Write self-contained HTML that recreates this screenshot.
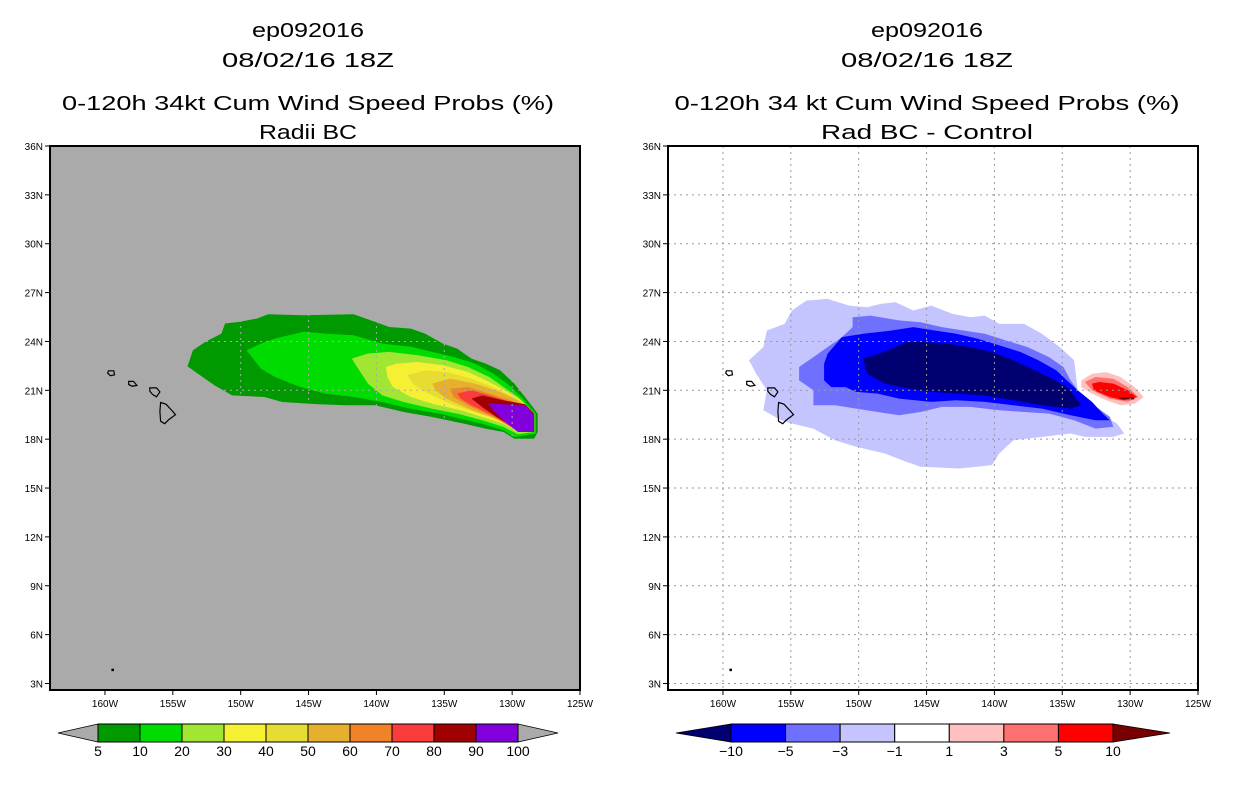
<!DOCTYPE html>
<html><head><meta charset="utf-8"><style>
html,body{margin:0;padding:0;background:#fff;}
svg{display:block;font-family:"Liberation Sans",sans-serif;}
</style></head><body>
<svg id="svg" width="1236" height="800" viewBox="0 0 1236 800">
<g id="titles" fill="#000" font-size="20" text-anchor="middle">
<text x="308" y="37" textLength="112" lengthAdjust="spacingAndGlyphs">ep092016</text>
<text x="308" y="67" textLength="172" lengthAdjust="spacingAndGlyphs">08/02/16 18Z</text>
<text x="308" y="110" textLength="492" lengthAdjust="spacingAndGlyphs">0-120h 34kt Cum Wind Speed Probs (%)</text>
<text x="308" y="139" textLength="98" lengthAdjust="spacingAndGlyphs">Radii BC</text>
<text x="927" y="37" textLength="112" lengthAdjust="spacingAndGlyphs">ep092016</text>
<text x="927" y="67" textLength="172" lengthAdjust="spacingAndGlyphs">08/02/16 18Z</text>
<text x="927" y="110" textLength="505" lengthAdjust="spacingAndGlyphs">0-120h 34 kt Cum Wind Speed Probs (%)</text>
<text x="927" y="139" textLength="212" lengthAdjust="spacingAndGlyphs">Rad BC - Control</text>
</g>
</svg>
<script>
// ---- data (lon in degrees east, negative = W) ----
const lonTicks=[-160,-155,-150,-145,-140,-135,-130,-125];
const latTicks=[3,6,9,12,15,18,21,24,27,30,33,36];
const leftLevels=[5,10,20,30,40,50,60,70,80,90,100];
const leftColors=["#009900","#00dc00","#a0e632","#f5f032","#e6dc32","#e6af2d","#f08228","#fa3c3c","#a00000","#8200dc"];
const rightLevels=[-10,-5,-3,-1,1,3,5,10];
const rightColors=["#000070","#0000ff","#7070ff","#c4c4ff","#ffffff","#ffc0c0","#ff7070","#ff0000","#780000"];
const prob5=[[-153.92,22.47],[-153.52,23.46],[-152.6,23.97],[-151.42,24.48],[-151.15,25.1],[-150.1,25.2],[-148.78,25.41],[-147.99,25.67],[-145.36,25.61],[-141.68,25.67],[-140.1,25.2],[-139.05,24.89],[-137.47,24.79],[-136.41,24.48],[-135.1,23.87],[-134.05,23.56],[-133.0,22.95],[-131.94,22.64],[-130.89,22.23],[-129.83,21.41],[-129.05,20.59],[-128.12,19.57],[-128.12,18.44],[-128.38,18.03],[-129.83,18.03],[-130.62,18.44],[-131.94,18.64],[-133.52,18.95],[-135.89,19.36],[-137.99,19.67],[-140.1,20.08],[-142.2,20.08],[-144.31,20.14],[-146.94,20.28],[-148.26,20.59],[-150.63,20.69],[-151.29,21.0],[-151.94,21.31],[-152.47,21.62]];
const prob10=[[-149.57,23.46],[-148.52,23.87],[-147.47,24.18],[-145.36,24.59],[-143.78,24.48],[-141.68,24.38],[-139.57,23.87],[-137.47,23.67],[-135.89,23.36],[-134.31,23.05],[-132.73,22.64],[-131.41,22.03],[-130.36,21.41],[-129.31,20.59],[-128.25,19.57],[-128.25,18.34],[-129.83,18.13],[-130.62,18.54],[-132.2,18.95],[-133.78,19.26],[-135.36,19.57],[-137.47,19.87],[-139.57,20.28],[-141.68,20.59],[-143.78,20.8],[-145.63,21.21],[-147.47,21.82],[-148.52,22.33]];
const prob20=[[-141.81,22.95],[-140.63,23.26],[-139.05,23.36],[-136.94,23.15],[-134.84,22.84],[-133.26,22.43],[-131.68,21.82],[-130.62,21.2],[-129.57,20.59],[-128.38,19.57],[-128.38,18.44],[-129.57,18.3],[-130.62,18.75],[-132.2,19.16],[-134.05,19.57],[-135.89,19.87],[-137.99,20.28],[-139.57,20.69],[-140.63,21.41],[-141.42,22.43]];
const prob30=[[-139.31,22.43],[-138.52,22.64],[-136.94,22.74],[-135.1,22.54],[-133.26,22.13],[-131.68,21.51],[-130.36,20.9],[-129.31,20.38],[-128.38,19.57],[-128.38,18.44],[-129.57,18.44],[-130.62,18.95],[-132.2,19.36],[-133.78,19.77],[-135.89,20.18],[-137.47,20.59],[-138.78,21.2],[-139.18,21.82]];
const prob40=[[-137.73,21.92],[-136.41,22.23],[-134.84,22.13],[-133.0,21.72],[-131.41,21.2],[-130.1,20.69],[-129.18,20.28],[-128.38,19.57],[-128.38,18.44],[-129.83,18.54],[-130.89,19.16],[-132.47,19.57],[-134.58,20.18],[-136.15,20.8],[-137.2,21.31]];
const prob50=[[-135.89,21.41],[-134.58,21.72],[-132.73,21.41],[-130.89,20.9],[-129.57,20.38],[-128.38,19.57],[-128.38,18.44],[-129.83,18.64],[-131.15,19.26],[-132.94,19.77],[-134.84,20.49],[-135.63,21.0]];
const prob60=[[-134.58,21.1],[-133.26,21.2],[-131.68,20.8],[-130.1,20.38],[-128.78,19.97],[-128.38,18.44],[-130.1,18.75],[-131.41,19.36],[-133.26,20.08],[-134.31,20.59]];
const prob70=[[-134.05,20.8],[-133.0,21.0],[-131.68,20.69],[-130.1,20.28],[-128.91,20.08],[-128.38,18.44],[-130.1,18.79],[-131.41,19.46],[-133.0,20.08],[-133.78,20.49]];
const prob80=[[-132.99,20.49],[-132.2,20.69],[-130.62,20.38],[-129.05,20.14],[-128.38,19.57],[-128.38,18.44],[-130.1,18.85],[-131.15,19.36],[-132.2,19.97]];
const prob90=[[-131.8,20.2],[-130.62,20.14],[-129.05,20.1],[-128.38,19.5],[-128.38,18.44],[-129.57,18.44],[-130.36,18.95],[-131.15,19.57]];
const diffM1=[[-154.92,25.9],[-153.87,26.51],[-152.29,26.61],[-150.71,26.2],[-149.39,26.1],[-148.34,26.31],[-147.29,26.41],[-145.97,25.9],[-144.66,26.2],[-143.08,25.69],[-141.76,25.49],[-140.71,25.59],[-139.65,25.08],[-137.81,25.08],[-136.5,24.47],[-135.18,23.65],[-134.13,22.84],[-134.0,22.02],[-133.86,21.0],[-133.07,20.18],[-132.29,19.57],[-130.97,18.96],[-130.44,18.35],[-131.23,18.14],[-133.34,18.14],[-134.39,18.35],[-136.5,18.14],[-138.6,17.94],[-139.65,17.12],[-140.18,16.41],[-142.55,16.2],[-145.44,16.31],[-146.5,16.61],[-148.08,17.12],[-150.18,17.53],[-151.76,17.94],[-153.34,18.65],[-154.92,18.96],[-155.71,19.16],[-157.03,19.78],[-156.76,21.0],[-157.55,22.02],[-158.08,22.84],[-157.03,23.65],[-156.76,24.67],[-155.45,25.08]];
const diffM3=[[-150.45,25.49],[-149.13,25.59],[-147.02,25.29],[-145.44,25.18],[-143.87,24.88],[-142.29,24.67],[-140.71,24.47],[-139.13,24.06],[-137.55,23.65],[-135.97,23.04],[-134.92,22.43],[-134.39,21.61],[-133.86,21.0],[-132.81,20.18],[-131.5,19.37],[-131.23,18.76],[-132.55,18.65],[-134.13,19.16],[-135.97,19.57],[-137.81,19.67],[-139.65,19.78],[-141.76,19.98],[-143.87,19.98],[-145.44,19.67],[-147.02,19.47],[-148.6,19.67],[-150.18,19.88],[-151.76,20.08],[-153.34,20.08],[-153.34,21.0],[-154.39,21.61],[-154.39,22.43],[-153.34,23.04],[-152.29,23.65],[-151.24,24.27],[-150.45,24.88]];
const diffM5=[[-151.24,24.27],[-149.66,24.47],[-147.55,24.67],[-145.97,24.88],[-144.39,24.67],[-142.81,24.47],[-141.23,24.16],[-139.65,23.76],[-138.08,23.35],[-136.76,22.84],[-135.44,22.22],[-134.65,21.61],[-133.86,21.0],[-132.81,20.29],[-132.02,19.57],[-131.5,19.16],[-132.55,19.16],[-134.39,19.47],[-136.5,19.88],[-138.6,20.08],[-140.71,20.29],[-142.81,20.39],[-144.66,20.29],[-147.02,20.49],[-148.6,20.8],[-150.18,20.9],[-150.97,21.2],[-152.02,21.2],[-152.55,21.61],[-152.55,22.63],[-152.29,23.24]];
const diffM10=[[-149.66,22.94],[-148.87,23.14],[-147.55,23.55],[-146.5,23.96],[-144.92,23.96],[-143.34,23.86],[-141.76,23.65],[-140.18,23.35],[-138.87,22.94],[-137.55,22.43],[-135.97,21.82],[-134.65,21.2],[-133.6,20.08],[-134.39,19.88],[-136.5,20.08],[-138.6,20.39],[-140.71,20.69],[-142.81,20.8],[-144.66,20.9],[-146.23,21.1],[-148.08,21.41],[-149.39,22.02]];
const diffP1=[[-133.6,21.61],[-132.81,22.02],[-131.76,22.12],[-130.71,21.82],[-129.66,21.2],[-129.0,20.59],[-129.66,20.18],[-130.71,20.08],[-131.76,20.39],[-132.81,20.8],[-133.6,21.2]];
const diffP3=[[-133.34,21.51],[-132.55,21.82],[-131.23,21.71],[-130.18,21.2],[-129.39,20.59],[-130.18,20.29],[-131.5,20.49],[-132.81,21.0]];
const diffP5=[[-132.81,21.41],[-132.29,21.51],[-131.23,21.41],[-130.18,21.0],[-129.52,20.59],[-130.44,20.39],[-131.5,20.59],[-132.68,21.0]];
const diffP10=[[-130.8,20.56],[-129.7,20.56],[-129.7,20.44],[-130.8,20.44]];
const bigIsland=[[-155.9,20.25],[-155.5,20.15],[-155.0,19.7],[-154.8,19.5],[-155.3,19.2],[-155.6,18.95],[-155.9,19.1],[-155.95,19.7]];
const maui=[[-156.7,21.15],[-156.2,21.15],[-155.95,20.9],[-156.2,20.6],[-156.5,20.75],[-156.7,20.95]];
const oahu=[[-158.25,21.55],[-157.9,21.55],[-157.65,21.3],[-158.0,21.25],[-158.25,21.35]];
const kauai=[[-159.75,22.2],[-159.35,22.2],[-159.3,21.95],[-159.6,21.9],[-159.8,22.05]];

const NS="http://www.w3.org/2000/svg";
const svg=document.getElementById('svg');
const LON0=-164.05,LON1=-125,LAT0=2.6,LAT1=36;
const panels=[{x0:50,x1:580,y0:146,y1:690,name:'left'},{x0:668,x1:1198,y0:146,y1:690,name:'right'}];
function xs(p,lon){return p.x0+(lon-LON0)/(LON1-LON0)*(p.x1-p.x0);}
function ys(p,lat){return p.y1-(lat-LAT0)/(LAT1-LAT0)*(p.y1-p.y0);}
function mk(tag,attrs,parent){const e=document.createElementNS(NS,tag);for(const k in attrs)e.setAttribute(k,attrs[k]);(parent||svg).appendChild(e);return e;}
function poly(p,pts,fill,stroke,parent){return mk('polygon',{points:pts.map(q=>xs(p,q[0]).toFixed(1)+','+ys(p,q[1]).toFixed(1)).join(' '),fill:fill,stroke:stroke||'none','stroke-width':stroke?1.2:0},parent);}

panels.forEach((p,pi)=>{
  const g=mk('g',{});
  
  
  const bg=mk('rect',{x:p.x0,y:p.y0,width:p.x1-p.x0,height:p.y1-p.y0,fill:pi==0?'#aaaaaa':'#ffffff'},g);
  
  
  let fields;
  if(pi==0){fields=[prob5,prob10,prob20,prob30,prob40,prob50,prob60,prob70,prob80,prob90].map((d,i)=>[d,leftColors[i],'prob-'+leftLevels[i]]);}
  else{fields=[[diffM1,rightColors[3],'diff-minus1'],[diffM3,rightColors[2],'diff-minus3'],[diffM5,rightColors[1],'diff-minus5'],[diffM10,rightColors[0],'diff-minus10'],[diffP1,rightColors[5],'diff-plus1'],[diffP3,rightColors[6],'diff-plus3'],[diffP5,rightColors[7],'diff-plus5'],[diffP10,rightColors[8],'diff-plus10']];}
  fields.forEach(f=>{
    const e=poly(p,f[0],f[1],null,g);
    
    
  });
  const gc=pi==0?'#aaaaaa':'#999999';
  lonTicks.slice(0,7).forEach(l=>{const e=mk('line',{x1:xs(p,l),x2:xs(p,l),y1:p.y0,y2:p.y1,stroke:gc,'stroke-dasharray':'2,4','stroke-width':1},g);
    
    });
  latTicks.forEach(l=>{const e=mk('line',{x1:p.x0,x2:p.x1,y1:ys(p,l),y2:ys(p,l),stroke:gc,'stroke-dasharray':'2,4','stroke-width':1},g);
    
    });
  [bigIsland,maui,oahu,kauai].forEach(d=>{const e=poly(p,d,'none','#000',g);
    
    });
  const dot=mk('rect',{x:xs(p,-159.45)-1,y:ys(p,3.85)-1,width:2.5,height:2.5,fill:'#000'},g);
  
  
  const fr=mk('rect',{x:p.x0,y:p.y0,width:p.x1-p.x0,height:p.y1-p.y0,fill:'none',stroke:'#000','stroke-width':2},g);
  
  
  lonTicks.forEach(l=>{const x=xs(p,l);
    mk('line',{x1:x,x2:x,y1:p.y1,y2:p.y1+5,stroke:'#000'},g);
    const t=mk('text',{x:x,y:p.y1+17,'font-size':10,'text-anchor':'middle'},g);t.textContent=(-l)+'W';
    
    });
  latTicks.forEach(l=>{const y=ys(p,l);
    mk('line',{x1:p.x0-5,x2:p.x0,y1:y,y2:y,stroke:'#000'},g);
    const t=mk('text',{x:p.x0-7,y:y+4,'font-size':10,'text-anchor':'end'},g);t.textContent=l+'N';
    
    });
});

function colorbar(x0,x1,tipL,tipR,colors,labels,leftTip,rightTip,name){
  const g=mk('g',{});
  
  
  const y0=724,y1=742,n=colors.length,w=(x1-x0)/n;
  const lt=mk('polygon',{points:`${x0},${y0} ${tipL},${(y0+y1)/2} ${x0},${y1}`,fill:leftTip,stroke:'#000','stroke-width':0.8},g);
  
  
  const rt=mk('polygon',{points:`${x1},${y0} ${tipR},${(y0+y1)/2} ${x1},${y1}`,fill:rightTip,stroke:'#000','stroke-width':0.8},g);
  
  
  colors.forEach((c,i)=>{const r=mk('rect',{x:x0+i*w,y:y0,width:w,height:y1-y0,fill:c,stroke:'#000','stroke-width':1},g);
    
    });
  labels.forEach((l,i)=>{const t=mk('text',{x:x0+i*w,y:y1+14,'font-size':14,'text-anchor':'middle'},g);t.textContent=String(l).replace('-','\u2212');
    
    });
}
colorbar(98,518,58,558,leftColors,leftLevels,'#aaaaaa','#aaaaaa','left-colorbar');
colorbar(731,1113,676,1170,rightColors.slice(1,8),rightLevels,rightColors[0],rightColors[8],'right-colorbar');
</script>
</body></html>
